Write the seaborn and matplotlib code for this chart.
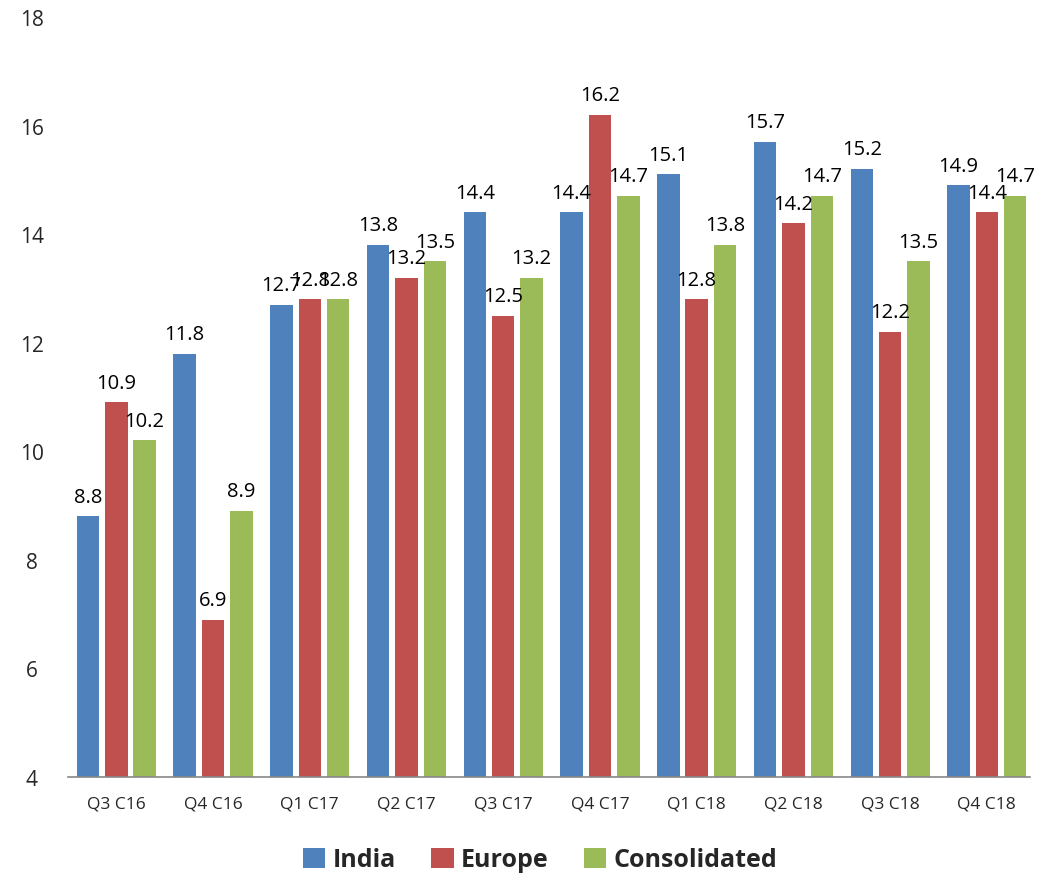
import matplotlib
matplotlib.use("Agg")
import matplotlib.pyplot as plt
import seaborn as sns
import pandas as pd
from matplotlib.patches import Patch

quarters = ["Q3 C16", "Q4 C16", "Q1 C17", "Q2 C17", "Q3 C17",
            "Q4 C17", "Q1 C18", "Q2 C18", "Q3 C18", "Q4 C18"]
india = [8.8, 11.8, 12.7, 13.8, 14.4, 14.4, 15.1, 15.7, 15.2, 14.9]
europe = [10.9, 6.9, 12.8, 13.2, 12.5, 16.2, 12.8, 14.2, 12.2, 14.4]
consolidated = [10.2, 8.9, 12.8, 13.5, 13.2, 14.7, 13.8, 14.7, 13.5, 14.7]
series = ["India", "Europe", "Consolidated"]
colors = ["#4F81BD", "#C0504D", "#9BBB59"]

df = pd.DataFrame({
    "Quarter": quarters * 3,
    "Series": [s for s in series for _ in quarters],
    "Value": india + europe + consolidated,
})

sns.set_theme(style="white")
plt.rcParams["font.family"] = ["Open Sans", "DejaVu Sans"]

fig = plt.figure(figsize=(10.45, 8.79), dpi=100)
ax = fig.add_axes([0.065, 1 - 778 / 879, 0.921, (778 - 18) / 879])

sns.barplot(data=df, x="Quarter", y="Value", hue="Series", order=quarters,
            hue_order=series, palette=colors, width=0.88, saturation=1,
            legend=False, ax=ax)

bar_w = 0.232
for p in ax.patches:
    c = p.get_x() + p.get_width() / 2
    p.set_width(bar_w)
    p.set_x(c - bar_w / 2)
    p.set_edgecolor("none")

for cont in ax.containers:
    ax.bar_label(cont, labels=[f"{v:.1f}" for v in cont.datavalues],
                 padding=7, fontsize=14.5, color="black")

ax.set_ylim(4, 18)
ax.set_xlim(-0.5, 9.45)
ax.set_yticks(range(4, 19, 2))
ax.set_xlabel("")
ax.set_ylabel("")
ax.tick_params(axis="y", labelsize=15, length=0, pad=26)
ax.tick_params(axis="x", labelsize=12.5, length=0, pad=13)
for lab in ax.get_yticklabels():
    lab.set_horizontalalignment("center")
for s in ["top", "right", "left"]:
    ax.spines[s].set_visible(False)
ax.spines["bottom"].set_color("#888888")
ax.spines["bottom"].set_linewidth(1.2)

handles = [Patch(facecolor=c, edgecolor="none") for c in colors]
leg = fig.legend(handles, series, loc="center", bbox_to_anchor=(0.517, 1 - 861 / 879),
                 ncol=3, frameon=False, handlelength=0.9, handleheight=0.9,
                 handletextpad=0.3, columnspacing=1.4,
                 prop={"size": 18, "weight": "bold"})

fig.savefig("out.png", dpi=100)
